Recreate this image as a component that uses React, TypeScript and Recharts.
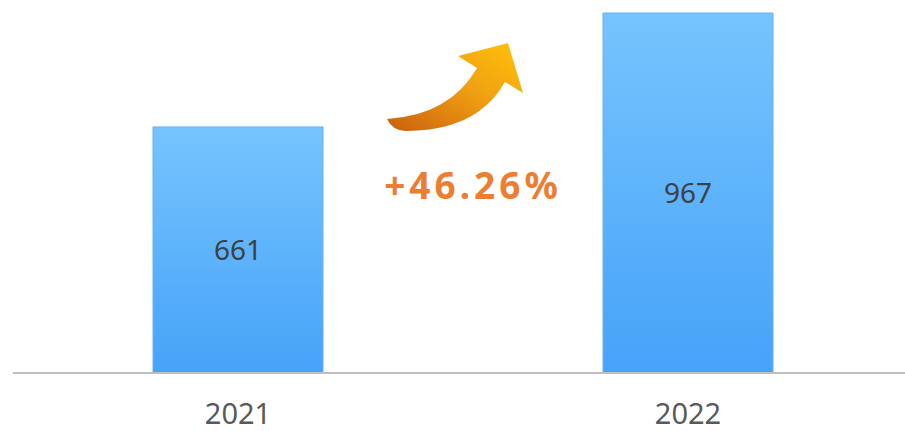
import React from 'react';
import { BarChart, Bar, XAxis, YAxis, LabelList } from 'recharts';

const years = ['2021', '2022'];
const counts = [661, 967];
const growthLabel = '+46.26%';

const data = years.map((year, i) => ({ year, count: counts[i] }));

const FONT = '"Noto Sans", "Open Sans", sans-serif';

export default function App() {
  return (
    <div style={{ position: 'absolute', left: 0, top: 0, width: 905, height: 431, overflow: 'hidden', background: '#fff' }}>
      <BarChart
        width={920}
        height={431}
        data={data}
        margin={{ top: 13, right: 7, left: 13, bottom: 0 }}
        barSize={170}
      >
        <defs>
          <linearGradient id="barFill" x1="0" y1="0" x2="0" y2="1">
            <stop offset="0%" stopColor="#76c4fd" />
            <stop offset="100%" stopColor="#46a3f9" />
          </linearGradient>
        </defs>
        <XAxis
          dataKey="year"
          height={58}
          axisLine={{ stroke: '#bfbfbf', strokeWidth: 2 }}
          tickLine={false}
          tickMargin={24}
          tick={{ fontSize: 29, fill: '#595959', fontFamily: FONT }}
        />
        <YAxis hide domain={[0, 967]} />
        <Bar dataKey="count" fill="url(#barFill)" stroke="#64b2f2" strokeWidth={1} isAnimationActive={false}>
          <LabelList
            dataKey="count"
            position="center"
            style={{ fontSize: 28, fill: '#404040', fontFamily: FONT }}
          />
        </Bar>
      </BarChart>

      {/* growth arrow + percentage */}
      <svg width={905} height={431} style={{ position: 'absolute', left: 0, top: 0, pointerEvents: 'none' }}>
        <defs>
          <linearGradient id="arrowFill" x1="0" y1="1" x2="1" y2="0">
            <stop offset="0%" stopColor="#c9600f" />
            <stop offset="55%" stopColor="#f0a012" />
            <stop offset="100%" stopColor="#ffc30a" />
          </linearGradient>
        </defs>
        <path
          d="M387,119 Q450,115 477,68 L458,56 L508,43 L523,93 L505,82 C485,117 450,131 405,131 Q392,130 387,119 Z"
          fill="url(#arrowFill)"
        />
        <text
          x={473}
          y={199}
          textAnchor="middle"
          fontFamily={FONT}
          fontWeight="bold"
          fontSize={37}
          fill="#ed7d31"
          letterSpacing={4}
        >
          {growthLabel}
        </text>
      </svg>
    </div>
  );
}
